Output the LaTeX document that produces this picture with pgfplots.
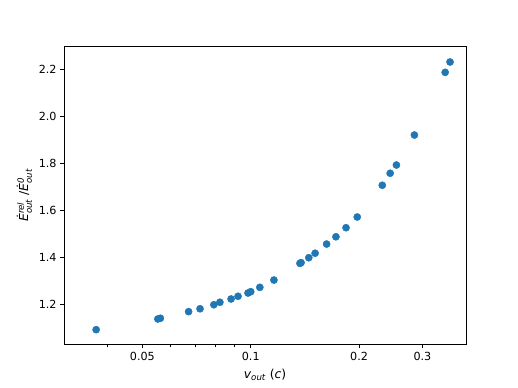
\documentclass[border=0pt]{standalone}
\usepackage{fontspec}
\setmainfont{DejaVu Sans}
\usepackage{amsmath}
\usepackage{pgfplots}
\pgfplotsset{compat=1.18}
\definecolor{tabblue}{HTML}{1F77B4}

\begin{document}
\begin{tikzpicture}
% figure frame 518x388, axes box 64..466 x 46..344.5
\path[use as bounding box] (-64bp,-43.5bp) rectangle (454bp,344.5bp);
\begin{axis}[
    at={(0,0)}, anchor=south west,
    scale only axis,
    width=402bp, height=298.5bp,
    xmode=log,
    xmin=0.03028, xmax=0.3965,
    ymin=1.029, ymax=2.298,
    xtick={0.05,0.1,0.2,0.3},
    xticklabels={0.05,0.1,0.2,0.3},
    minor xtick={0.04,0.06,0.07,0.08,0.09},
    ytick={1.2,1.4,1.6,1.8,2.0,2.2},
    yticklabels={1.2,1.4,1.6,1.8,2.0,2.2},
    tick align=outside,
    tick pos=left,
    major tick length=3.9bp,
    minor tick length=2.25bp,
    every tick/.style={black, line width=0.9bp},
    axis line style={line width=0.9bp},
    every tick label/.append style={font=\fontsize{11.2}{13}\selectfont},
    label style={font=\fontsize{12.4}{14}\selectfont},
    xlabel={\textit{v}$_{\textit{out}}$ (\textit{c})},
    ylabel={\textit{\.{E}}$^{\textit{rel}}_{\textit{out}}$ /\textit{\.{E}}$^{\textit{0}}_{\textit{out}}$},
    xlabel style={yshift=-2bp},
    ylabel style={yshift=0bp},
]
\addplot[only marks, mark=*, mark size=3.6bp, color=tabblue] coordinates {
(0.0372,1.092)
(0.0552,1.1375)
(0.0561,1.1405)
(0.0672,1.1686)
(0.0723,1.181)
(0.0790,1.198)
(0.0821,1.2085)
(0.0882,1.2225)
(0.0922,1.234)
(0.0983,1.248)
(0.1000,1.2535)
(0.1060,1.272)
(0.1160,1.303)
(0.1370,1.374)
(0.1380,1.377)
(0.1450,1.398)
(0.1510,1.417)
(0.1625,1.456)
(0.1725,1.487)
(0.1840,1.5255)
(0.1977,1.571)
(0.2320,1.706)
(0.2440,1.757)
(0.2540,1.792)
(0.2850,1.9195)
(0.3470,2.186)
(0.3580,2.230)
};
\end{axis}
\end{tikzpicture}
\end{document}
